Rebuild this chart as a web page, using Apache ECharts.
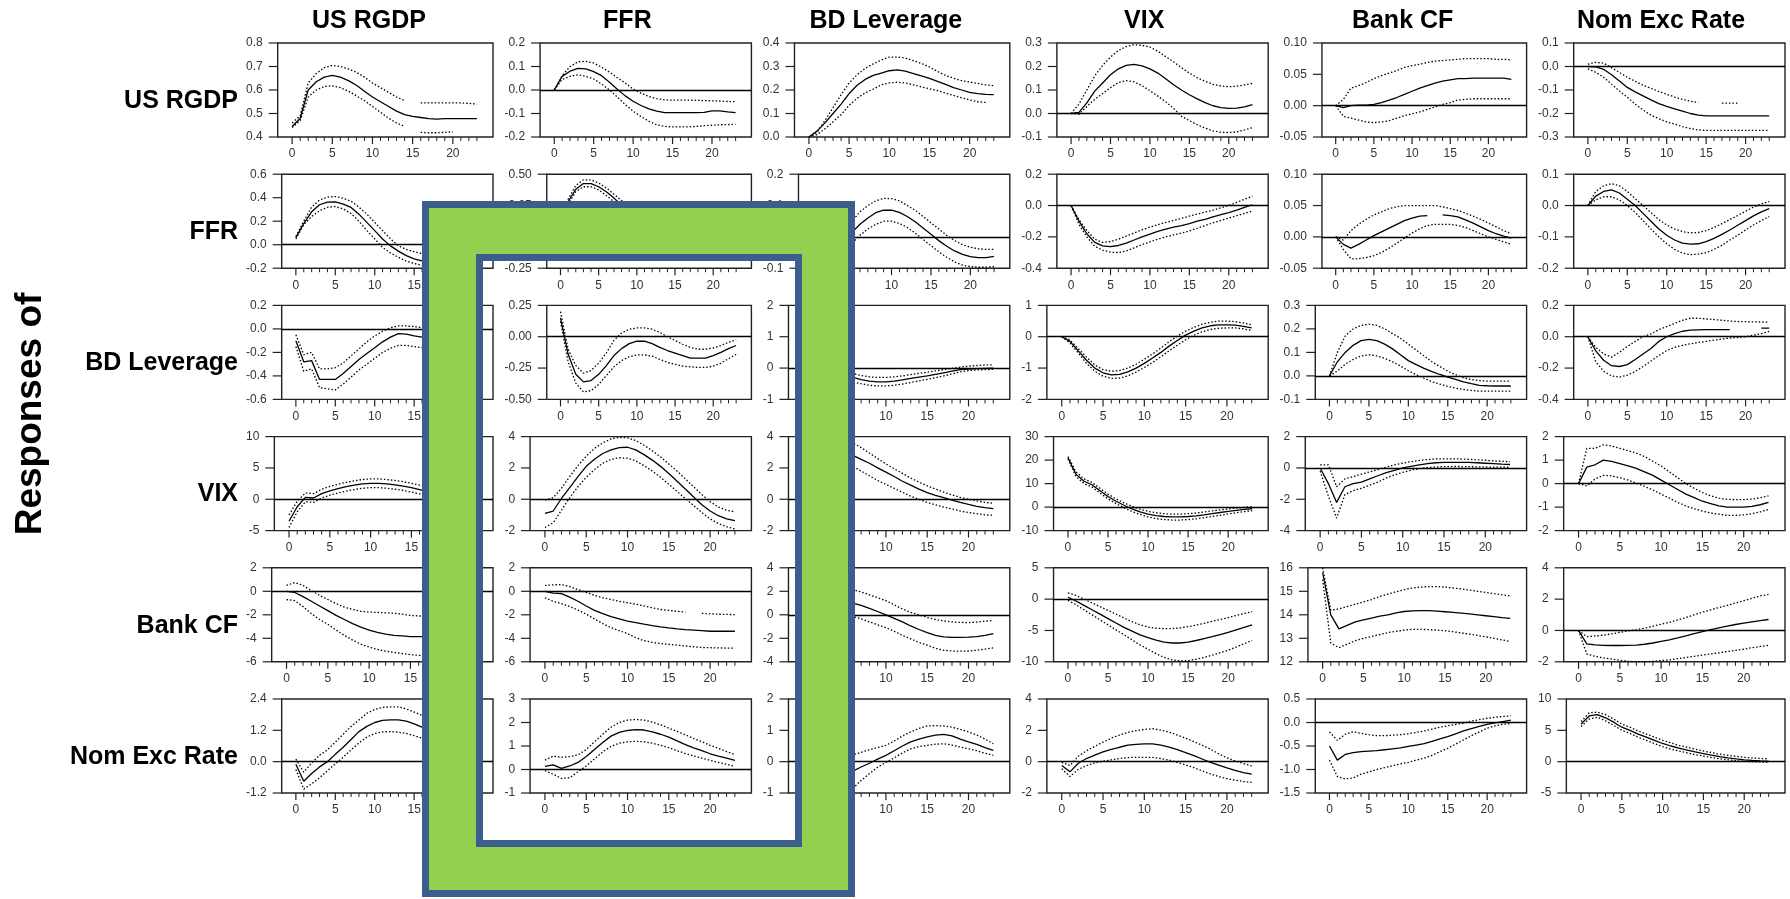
<!DOCTYPE html>
<html>
<head>
<meta charset="utf-8">
<script src="https://cdn.jsdelivr.net/npm/echarts@6/dist/echarts.min.js"></script>
<style>
html, body { margin: 0; padding: 0; background: #fff; }
#chart { width: 1790px; height: 899px; }
</style>
</head>
<body>
<div id="chart"></div>
<script>
// shock / response names (columns = shocks, rows = responses)
var names = ['US RGDP', 'FFR', 'BD Leverage', 'VIX', 'Bank CF', 'Nom Exc Rate'];
var steps = [0, 1, 2, 3, 4, 5, 6, 7, 8, 9, 10, 11, 12, 13, 14, 15, 16, 17, 18, 19, 20, 21, 22, 23];
var xTicks = [0, 5, 10, 15, 20];

// y axis range per panel [row][col]
var yMin = [
    [0.4, -0.2, 0, -0.1, -0.05, -0.3],
    [-0.2, -0.25, -0.1, -0.4, -0.05, -0.2],
    [-0.6, -0.5, -1, -2, -0.1, -0.4],
    [-5, -2, -2, -10, -4, -2],
    [-6, -6, -4, -10, 12, -2],
    [-1.2, -1, -1, -2, -1.5, -5]
];
var yMax = [
    [0.8, 0.2, 0.4, 0.3, 0.10, 0.1],
    [0.6, 0.5, 0.2, 0.2, 0.10, 0.1],
    [0.2, 0.25, 2, 1, 0.3, 0.2],
    [10, 4, 4, 30, 2, 2],
    [2, 2, 4, 5, 16, 4],
    [2.4, 3, 2, 4, 0.5, 10]
];
var yStep = [
    [0.1, 0.1, 0.1, 0.1, 0.05, 0.1],
    [0.2, 0.25, 0.1, 0.2, 0.05, 0.1],
    [0.2, 0.25, 1, 1, 0.1, 0.2],
    [5, 2, 2, 10, 2, 1],
    [2, 2, 2, 5, 1, 2],
    [1.2, 1, 1, 2, 0.5, 5]
];

// responses of US RGDP
var rgdpMid = [
    [0.445, 0.48, 0.60, 0.635, 0.655, 0.662, 0.655, 0.64, 0.62, 0.595, 0.57, 0.55, 0.53, 0.51, 0.495, 0.488, 0.483, 0.478, 0.476, 0.478, 0.478, 0.478, 0.478, 0.478],
    [0, 0.058, 0.08, 0.092, 0.09, 0.078, 0.061, 0.033, 0.003, -0.025, -0.048, -0.066, -0.08, -0.09, -0.096, -0.096, -0.096, -0.096, -0.096, -0.095, -0.089, -0.089, -0.093, -0.096],
    [0, 0.025, 0.06, 0.1, 0.14, 0.185, 0.22, 0.245, 0.262, 0.272, 0.282, 0.286, 0.28, 0.27, 0.26, 0.249, 0.237, 0.224, 0.21, 0.2, 0.19, 0.185, 0.181, 0.18],
    [0, 0.005, 0.045, 0.095, 0.13, 0.165, 0.19, 0.205, 0.209, 0.203, 0.19, 0.172, 0.148, 0.122, 0.1, 0.08, 0.062, 0.046, 0.033, 0.025, 0.022, 0.023, 0.028, 0.038],
    [0, -0.003, 0, 0.001, 0.001, 0.002, 0.005, 0.009, 0.013, 0.018, 0.023, 0.028, 0.032, 0.036, 0.039, 0.041, 0.043, 0.043, 0.044, 0.044, 0.044, 0.044, 0.044, 0.042],
    [0, -0.002, -0.012, -0.035, -0.062, -0.089, -0.108, -0.125, -0.142, -0.158, -0.17, -0.18, -0.19, -0.2, -0.207, -0.21, -0.21, -0.21, -0.21, -0.21, -0.21, -0.21, -0.21, -0.21]
];
var rgdpUp = [
    [0.46, 0.49, 0.63, 0.67, 0.695, 0.705, 0.70, 0.69, 0.675, 0.655, 0.63, 0.61, 0.59, 0.57, 0.555, null, 0.545, 0.545, 0.545, 0.545, 0.545, 0.545, 0.543, 0.54],
    [0, 0.061, 0.1, 0.12, 0.122, 0.115, 0.097, 0.076, 0.052, 0.03, 0.004, -0.013, -0.028, -0.037, -0.042, -0.043, -0.043, -0.043, -0.044, -0.045, -0.046, -0.047, -0.049, -0.05],
    [0, 0.02, 0.07, 0.125, 0.18, 0.23, 0.265, 0.292, 0.311, 0.327, 0.34, 0.34, 0.336, 0.325, 0.313, 0.298, 0.279, 0.262, 0.25, 0.24, 0.234, 0.228, 0.222, 0.218],
    [0, 0.04, 0.1, 0.16, 0.205, 0.24, 0.268, 0.285, 0.293, 0.29, 0.283, 0.265, 0.242, 0.22, 0.195, 0.172, 0.152, 0.137, 0.124, 0.117, 0.114, 0.116, 0.122, 0.128],
    [0, 0.01, 0.028, 0.032, 0.037, 0.043, 0.048, 0.052, 0.056, 0.061, 0.064, 0.066, 0.069, 0.071, 0.072, 0.073, 0.074, 0.075, 0.075, 0.075, 0.075, 0.074, 0.074, 0.073],
    [0.01, 0.018, 0.014, -0.005, -0.025, -0.046, -0.063, -0.08, -0.093, -0.106, -0.118, -0.13, -0.14, -0.148, -0.153, null, null, -0.156, -0.156, -0.156, null, null, null, null]
];
var rgdpLo = [
    [0.44, 0.47, 0.57, 0.60, 0.615, 0.618, 0.61, 0.595, 0.575, 0.555, 0.53, 0.505, 0.48, 0.46, 0.445, null, 0.42, 0.418, 0.418, 0.42, 0.422, null, null, null],
    [0, 0.045, 0.058, 0.065, 0.058, 0.047, 0.025, 0, -0.03, -0.062, -0.09, -0.113, -0.133, -0.148, -0.155, -0.157, -0.157, -0.157, -0.155, -0.152, -0.15, -0.148, -0.147, -0.146],
    [0, 0.01, 0.035, 0.065, 0.095, 0.135, 0.165, 0.188, 0.204, 0.222, 0.23, 0.233, 0.23, 0.222, 0.213, 0.205, 0.197, 0.187, 0.177, 0.167, 0.158, 0.15, 0.147, null],
    [0, -0.003, 0.03, 0.06, 0.085, 0.11, 0.132, 0.14, 0.135, 0.118, 0.097, 0.074, 0.05, 0.022, -0.012, -0.03, -0.048, -0.062, -0.074, -0.08, -0.081, -0.078, -0.07, -0.06],
    [0, -0.017, -0.02, -0.023, -0.026, -0.027, -0.026, -0.024, -0.02, -0.016, -0.013, -0.01, -0.006, -0.002, 0.002, 0.005, 0.009, 0.01, 0.011, 0.011, 0.011, 0.011, 0.011, 0.011],
    [-0.01, -0.025, -0.046, -0.075, -0.104, -0.131, -0.16, -0.185, -0.207, -0.222, -0.236, -0.245, -0.256, -0.264, -0.27, -0.272, -0.272, -0.272, -0.272, -0.272, -0.272, -0.272, -0.272, -0.272]
];

// responses of FFR
var ffrMid = [
    [0.06, 0.18, 0.28, 0.34, 0.362, 0.365, 0.345, 0.317, 0.26, 0.19, 0.12, 0.048, -0.01, -0.055, -0.093, -0.12, -0.138, -0.145, -0.145, -0.14, -0.13, -0.12, -0.11, -0.1],
    [0.12, 0.28, 0.38, 0.425, 0.425, 0.4, 0.36, 0.31, 0.25, 0.19, 0.13, 0.08, 0.04, 0.01, -0.01, -0.03, -0.04, -0.05, -0.055, -0.06, -0.06, -0.06, -0.06, -0.06],
    [0, -0.02, -0.03, -0.025, -0.01, 0.015, 0.04, 0.06, 0.077, 0.085, 0.085, 0.078, 0.065, 0.048, 0.028, 0.008, -0.012, -0.03, -0.045, -0.056, -0.063, -0.066, -0.066, -0.062],
    [0, -0.1, -0.18, -0.235, -0.258, -0.262, -0.255, -0.24, -0.22, -0.2, -0.182, -0.165, -0.15, -0.138, -0.128, -0.115, -0.1, -0.088, -0.072, -0.058, -0.045, -0.03, -0.012, 0.005],
    [0, -0.012, -0.018, -0.012, -0.005, 0.002, 0.008, 0.014, 0.02, 0.026, 0.03, 0.033, 0.034, null, 0.035, 0.034, 0.032, 0.027, 0.022, 0.016, 0.01, 0.005, 0.001, -0.002],
    [0, 0.03, 0.045, 0.05, 0.04, 0.02, 0, -0.025, -0.05, -0.075, -0.095, -0.11, -0.12, -0.123, -0.122, -0.115, -0.105, -0.092, -0.078, -0.063, -0.048, -0.033, -0.02, -0.01]
];
var ffrUp = [
    [0.07, 0.2, 0.32, 0.38, 0.405, 0.41, 0.395, 0.37, 0.32, 0.26, 0.19, 0.12, 0.05, -0.01, -0.04, -0.06, -0.075, -0.08, -0.08, -0.075, -0.07, -0.06, -0.05, -0.04],
    [0.14, 0.3, 0.41, 0.455, 0.455, 0.43, 0.39, 0.34, 0.29, 0.23, 0.17, 0.12, 0.08, 0.05, 0.03, 0.01, 0, -0.01, -0.015, -0.02, -0.02, -0.02, -0.02, -0.02],
    [0, -0.01, -0.01, 0, 0.02, 0.05, 0.08, 0.1, 0.115, 0.123, 0.122, 0.115, 0.1, 0.085, 0.065, 0.045, 0.025, 0.005, -0.012, -0.025, -0.033, -0.038, -0.04, -0.04],
    [0, -0.09, -0.16, -0.215, -0.235, -0.23, -0.215, -0.195, -0.175, -0.155, -0.138, -0.122, -0.108, -0.095, -0.082, -0.068, -0.055, -0.042, -0.03, -0.015, 0, 0.02, 0.04, 0.06],
    [0, -0.005, 0.01, 0.02, 0.028, 0.035, 0.04, 0.045, 0.048, 0.05, 0.05, 0.05, 0.05, 0.05, 0.048, 0.045, 0.042, 0.038, 0.033, 0.028, 0.022, 0.016, 0.01, 0.005],
    [0, 0.045, 0.063, 0.07, 0.063, 0.045, 0.022, 0, -0.022, -0.045, -0.062, -0.075, -0.083, -0.087, -0.086, -0.08, -0.07, -0.058, -0.045, -0.032, -0.018, -0.005, 0.005, 0.013]
];
var ffrLo = [
    [0.05, 0.17, 0.24, 0.29, 0.318, 0.325, 0.305, 0.266, 0.2, 0.12, 0.05, -0.023, -0.07, -0.107, -0.14, -0.16, -0.175, -0.18, -0.18, -0.175, -0.165, -0.155, -0.145, -0.135],
    [0.1, 0.26, 0.36, 0.4, 0.4, 0.375, 0.33, 0.28, 0.22, 0.16, 0.1, 0.05, 0.01, -0.02, -0.04, -0.06, -0.07, -0.08, -0.09, -0.1, -0.1, -0.1, -0.1, -0.1],
    [0, -0.03, -0.05, -0.05, -0.04, -0.02, 0.005, 0.025, 0.04, 0.05, 0.05, 0.043, 0.03, 0.012, -0.008, -0.028, -0.048, -0.065, -0.08, -0.09, -0.095, -0.097, -0.097, -0.095],
    [0, -0.12, -0.2, -0.26, -0.285, -0.298, -0.3, -0.29, -0.27, -0.25, -0.232, -0.215, -0.2, -0.188, -0.176, -0.162, -0.145, -0.128, -0.11, -0.095, -0.08, -0.065, -0.05, -0.035],
    [0, -0.02, -0.035, -0.035, -0.033, -0.03, -0.025, -0.018, -0.01, -0.002, 0.006, 0.013, 0.018, 0.02, 0.02, 0.02, 0.018, 0.015, 0.01, 0.005, 0, -0.004, -0.008, -0.012],
    [0, 0.018, 0.028, 0.028, 0.018, 0, -0.022, -0.048, -0.075, -0.1, -0.122, -0.14, -0.152, -0.157, -0.155, -0.15, -0.14, -0.127, -0.11, -0.095, -0.078, -0.062, -0.048, -0.035]
];

// responses of BD Leverage
var levMid = [
    [-0.1, -0.28, -0.27, -0.43, -0.43, -0.43, -0.38, -0.32, -0.26, -0.21, -0.16, -0.11, -0.07, -0.04, -0.045, -0.06, -0.07, -0.08, -0.09, -0.1, -0.1, -0.1, -0.1, -0.1],
    [0.15, -0.14, -0.3, -0.36, -0.35, -0.3, -0.23, -0.15, -0.095, -0.055, -0.036, -0.036, -0.055, -0.085, -0.11, -0.13, -0.15, -0.17, -0.17, -0.17, -0.15, -0.125, -0.095, -0.07],
    [1.0, 0.7, 0.4, 0.15, -0.05, -0.2, -0.3, -0.37, -0.42, -0.44, -0.44, -0.42, -0.38, -0.33, -0.29, -0.25, -0.2, -0.15, -0.1, -0.05, -0.03, -0.02, -0.01, 0],
    [0, -0.15, -0.45, -0.75, -1.0, -1.15, -1.22, -1.2, -1.12, -1.0, -0.85, -0.68, -0.5, -0.3, -0.12, 0.05, 0.18, 0.28, 0.35, 0.38, 0.38, 0.37, 0.33, 0.28],
    [0, 0.06, 0.1, 0.13, 0.15, 0.155, 0.15, 0.135, 0.115, 0.09, 0.065, 0.048, 0.032, 0.018, 0.006, -0.005, -0.015, -0.025, -0.033, -0.04, -0.042, -0.043, -0.043, -0.043],
    [0, -0.09, -0.15, -0.185, -0.19, -0.178, -0.145, -0.11, -0.075, -0.03, 0, 0.02, 0.035, 0.042, 0.044, 0.045, 0.045, 0.045, 0.045, null, null, null, 0.055, 0.055]
];
var levUp = [
    [-0.05, -0.22, -0.2, -0.34, -0.34, -0.33, -0.29, -0.23, -0.17, -0.11, -0.06, -0.02, 0.01, 0.025, 0.025, 0.02, 0.01, 0, -0.01, -0.02, -0.02, -0.02, -0.02, -0.02],
    [0.2, -0.1, -0.23, -0.29, -0.27, -0.21, -0.13, -0.03, 0.03, 0.06, 0.07, 0.07, 0.06, 0.035, 0, -0.03, -0.06, -0.085, -0.1, -0.1, -0.09, -0.07, -0.045, -0.025],
    [1.1, 0.82, 0.52, 0.27, 0.08, -0.07, -0.17, -0.24, -0.28, -0.3, -0.3, -0.28, -0.25, -0.21, -0.17, -0.13, -0.09, -0.05, -0.01, 0.03, 0.06, 0.08, 0.1, 0.1],
    [0, -0.1, -0.38, -0.65, -0.9, -1.05, -1.1, -1.08, -1.0, -0.88, -0.72, -0.55, -0.36, -0.16, 0.02, 0.18, 0.3, 0.4, 0.46, 0.5, 0.5, 0.48, 0.44, 0.38],
    [0, 0.1, 0.17, 0.2, 0.215, 0.22, 0.215, 0.2, 0.18, 0.16, 0.135, 0.11, 0.085, 0.06, 0.04, 0.02, 0.005, -0.008, -0.016, -0.02, -0.022, -0.022, -0.022, -0.022],
    [0, -0.068, -0.11, -0.13, -0.1, -0.062, -0.03, 0, 0.018, 0.045, 0.065, 0.085, 0.105, 0.118, 0.118, 0.114, 0.11, 0.105, 0.1, 0.097, 0.096, 0.095, 0.094, 0.093]
];
var levLo = [
    [-0.15, -0.36, -0.34, -0.5, -0.51, -0.52, -0.47, -0.41, -0.35, -0.3, -0.25, -0.2, -0.165, -0.14, -0.14, -0.15, -0.16, -0.17, -0.18, -0.18, -0.18, -0.18, -0.18, -0.18],
    [0.12, -0.2, -0.37, -0.44, -0.43, -0.38, -0.31, -0.24, -0.19, -0.16, -0.145, -0.145, -0.155, -0.18, -0.205, -0.22, -0.235, -0.24, -0.245, -0.245, -0.235, -0.21, -0.175, -0.14],
    [0.9, 0.58, 0.28, 0.03, -0.18, -0.33, -0.44, -0.5, -0.55, -0.57, -0.57, -0.55, -0.51, -0.46, -0.41, -0.36, -0.31, -0.25, -0.19, -0.12, -0.08, -0.06, -0.05, -0.04],
    [0, -0.2, -0.52, -0.85, -1.1, -1.26, -1.33, -1.32, -1.25, -1.13, -0.98, -0.82, -0.64, -0.45, -0.27, -0.1, 0.05, 0.16, 0.23, 0.27, 0.28, 0.28, 0.25, 0.2],
    [0, 0.02, 0.05, 0.07, 0.085, 0.09, 0.085, 0.075, 0.06, 0.042, 0.022, 0.005, -0.01, -0.025, -0.035, -0.045, -0.052, -0.058, -0.062, -0.065, -0.065, -0.065, -0.065, -0.065],
    [0, -0.16, -0.22, -0.25, -0.258, -0.245, -0.222, -0.19, -0.155, -0.12, -0.088, -0.068, -0.055, -0.045, -0.037, -0.03, -0.022, -0.015, -0.008, -0.005, 0, 0.01, 0.02, 0.034]
];

// responses of VIX
var vixMid = [
    [-3.5, -1.2, 0.3, 0.2, 0.9, 1.35, 1.7, 2.0, 2.25, 2.45, 2.55, 2.55, 2.45, 2.3, 2.1, 1.85, 1.55, 1.2, 0.85, 0.5, 0.2, -0.05, -0.25, -0.4],
    [-0.9, -0.75, 0.05, 0.75, 1.45, 2.1, 2.55, 2.92, 3.15, 3.3, 3.32, 3.15, 2.85, 2.5, 2.1, 1.65, 1.15, 0.65, 0.15, -0.35, -0.75, -1.05, -1.25, -1.37],
    [3.5, 3.6, 3.5, 3.3, 3.1, 2.95, 2.8, 2.55, 2.3, 2.0, 1.73, 1.45, 1.15, 0.9, 0.65, 0.43, 0.25, 0.1, -0.05, -0.2, -0.33, -0.45, -0.53, -0.6],
    [21, 14, 11, 9.5, 7, 4.5, 2.5, 0.8, -0.8, -2.0, -3.0, -3.6, -4.0, -4.2, -4.2, -4.0, -3.7, -3.3, -2.8, -2.3, -1.8, -1.4, -1.0, -0.7],
    [0, -1.0, -2.2, -1.2, -1.0, -0.9, -0.7, -0.5, -0.3, -0.15, 0, 0.1, 0.2, 0.28, 0.33, 0.35, 0.36, 0.36, 0.35, 0.33, 0.3, 0.27, 0.24, 0.22],
    [0, 0.7, 0.8, 1.0, 0.95, 0.85, 0.75, 0.65, 0.5, 0.35, 0.15, -0.05, -0.25, -0.45, -0.6, -0.75, -0.85, -0.95, -1.0, -1.0, -1.0, -0.97, -0.9, -0.8]
];
var vixUp = [
    [-2.5, -0.3, 1.0, 0.9, 1.6, 2.05, 2.4, 2.7, 2.95, 3.15, 3.25, 3.25, 3.15, 3.0, 2.8, 2.55, 2.25, 1.9, 1.55, 1.2, 0.9, 0.65, 0.45, 0.3],
    [-0.05, 0.1, 0.7, 1.45, 2.15, 2.75, 3.25, 3.6, 3.85, 3.95, 3.92, 3.75, 3.45, 3.1, 2.7, 2.25, 1.8, 1.3, 0.8, 0.3, -0.15, -0.5, -0.7, -0.8],
    [4.0, 4.2, 4.1, 3.95, 3.8, 3.7, 3.6, 3.3, 2.95, 2.6, 2.25, 1.95, 1.65, 1.35, 1.1, 0.86, 0.65, 0.45, 0.28, 0.12, 0, -0.1, -0.2, -0.25],
    [21.5, 15, 12, 10.5, 8, 5.5, 3.5, 1.8, 0.3, -0.9, -1.8, -2.4, -2.8, -3.0, -3.0, -2.8, -2.5, -2.1, -1.6, -1.2, -0.8, -0.4, -0.1, 0.2],
    [0.2, 0.2, -1.2, -0.7, -0.55, -0.4, -0.25, -0.1, 0.05, 0.2, 0.3, 0.4, 0.48, 0.54, 0.57, 0.58, 0.58, 0.57, 0.55, 0.52, 0.49, 0.45, 0.42, 0.4],
    [0, 1.5, 1.5, 1.65, 1.6, 1.5, 1.4, 1.3, 1.15, 0.95, 0.75, 0.5, 0.25, 0, -0.2, -0.38, -0.52, -0.62, -0.67, -0.68, -0.68, -0.66, -0.6, -0.52]
];
var vixLo = [
    [-4.5, -2.0, -0.4, -0.5, 0.2, 0.65, 1.0, 1.3, 1.55, 1.75, 1.85, 1.85, 1.75, 1.6, 1.4, 1.15, 0.85, 0.5, 0.15, -0.2, -0.5, -0.75, -0.95, -1.1],
    [-1.8, -1.5, -0.7, 0.1, 0.8, 1.4, 1.9, 2.3, 2.55, 2.65, 2.62, 2.45, 2.15, 1.8, 1.4, 0.95, 0.5, 0.05, -0.4, -0.85, -1.25, -1.55, -1.75, -1.9],
    [3.0, 3.0, 2.9, 2.7, 2.5, 2.3, 2.1, 1.8, 1.5, 1.2, 0.95, 0.7, 0.45, 0.2, 0, -0.2, -0.35, -0.5, -0.62, -0.75, -0.85, -0.92, -1.0, -1.02],
    [20.5, 13, 10, 8.5, 6, 3.5, 1.5, -0.3, -1.9, -3.1, -4.2, -4.9, -5.3, -5.5, -5.5, -5.3, -5.0, -4.5, -4.0, -3.5, -2.9, -2.4, -1.9, -1.5],
    [-0.2, -1.8, -3.2, -1.7, -1.45, -1.3, -1.1, -0.9, -0.65, -0.45, -0.28, -0.15, -0.05, 0.02, 0.06, 0.08, 0.09, 0.09, 0.08, 0.07, 0.06, 0.05, 0.05, 0.04],
    [0, -0.1, 0.2, 0.35, 0.33, 0.25, 0.15, 0.02, -0.12, -0.27, -0.45, -0.62, -0.8, -0.95, -1.07, -1.17, -1.25, -1.3, -1.35, -1.35, -1.33, -1.28, -1.2, -1.1]
];

// responses of Bank CF
var bankMid = [
    [0, -0.1, -0.45, -0.85, -1.25, -1.65, -2.05, -2.4, -2.75, -3.05, -3.3, -3.5, -3.65, -3.75, -3.8, -3.85, -3.85, -3.85, -3.85, -3.85, -3.85, -3.85, -3.85, -3.85],
    [0, -0.15, -0.2, -0.5, -0.85, -1.25, -1.62, -1.9, -2.15, -2.35, -2.53, -2.67, -2.8, -2.92, -3.03, -3.12, -3.2, -3.26, -3.3, -3.35, -3.4, -3.4, -3.4, -3.4],
    [1.5, 1.4, 1.3, 1.2, 1.1, 1.05, 1.0, 0.8, 0.55, 0.28, 0, -0.3, -0.6, -0.95, -1.25, -1.52, -1.75, -1.88, -1.92, -1.92, -1.9, -1.85, -1.75, -1.6],
    [0.3, -0.3, -1.0, -1.7, -2.4, -3.1, -3.8, -4.5, -5.1, -5.7, -6.15, -6.55, -6.85, -7.0, -7.0, -6.85, -6.6, -6.3, -6.0, -5.65, -5.3, -4.9, -4.5, -4.1],
    [15.8, 14.0, 13.4, 13.55, 13.7, 13.78, 13.86, 13.94, 14.0, 14.08, 14.14, 14.17, 14.18, 14.18, 14.16, 14.13, 14.1, 14.07, 14.04, 14.0, 13.96, 13.92, 13.88, 13.85],
    [0, -0.85, -0.92, -0.95, -0.96, -0.96, -0.95, -0.93, -0.88, -0.8, -0.7, -0.6, -0.48, -0.35, -0.2, -0.08, 0.05, 0.17, 0.28, 0.38, 0.47, 0.55, 0.63, 0.7]
];
var bankUp = [
    [0.5, 0.75, 0.5, 0.05, -0.35, -0.7, -1.05, -1.35, -1.55, -1.7, -1.77, -1.8, -1.83, -1.86, -1.95, -2.05, -2.1, -2.1, -2.1, -2.1, -2.1, -2.1, -2.1, -2.1],
    [0.5, 0.55, 0.57, 0.4, 0.15, -0.1, -0.35, -0.55, -0.7, -0.85, -0.97, -1.1, -1.25, -1.4, -1.55, -1.62, -1.7, -1.76, null, -1.88, -1.92, -1.95, -1.97, -1.98],
    [2.5, 2.5, 2.4, 2.35, 2.3, 2.2, 2.14, 1.95, 1.7, 1.45, 1.2, 0.85, 0.5, 0.2, 0, -0.23, -0.4, -0.52, -0.6, -0.65, -0.66, -0.62, -0.55, -0.48],
    [1.0, 0.6, 0, -0.6, -1.2, -1.8, -2.4, -3.0, -3.6, -4.1, -4.45, -4.65, -4.7, -4.7, -4.6, -4.4, -4.15, -3.85, -3.55, -3.25, -2.95, -2.6, -2.3, -2.0],
    [16.0, 14.2, 14.25, 14.35, 14.45, 14.55, 14.65, 14.78, 14.88, 14.98, 15.07, 15.14, 15.18, 15.2, 15.2, 15.18, 15.14, 15.1, 15.05, 15.0, 14.95, 14.9, 14.85, 14.8],
    [0, -0.4, -0.35, -0.3, -0.22, -0.12, -0.03, 0.05, 0.15, 0.27, 0.4, 0.52, 0.67, 0.82, 1.0, 1.17, 1.32, 1.46, 1.6, 1.75, 1.9, 2.05, 2.2, 2.3]
];
var bankLo = [
    [-0.7, -0.8, -1.3, -1.9, -2.4, -2.8, -3.3, -3.75, -4.15, -4.5, -4.75, -4.95, -5.1, -5.2, -5.3, -5.4, -5.45, -5.5, -5.5, -5.5, -5.5, -5.5, -5.5, -5.5],
    [-0.55, -0.85, -1.05, -1.3, -1.6, -1.95, -2.35, -2.75, -3.1, -3.35, -3.6, -3.95, -4.2, -4.35, -4.45, -4.52, -4.58, -4.65, -4.72, -4.78, -4.8, -4.82, -4.83, -4.83],
    [0.8, 0.6, 0.45, 0.3, 0.15, 0, -0.15, -0.35, -0.6, -0.85, -1.1, -1.4, -1.75, -2.05, -2.35, -2.58, -2.85, -3.02, -3.08, -3.1, -3.08, -3.02, -2.92, -2.82],
    [-0.2, -0.9, -1.7, -2.5, -3.3, -4.1, -4.9, -5.7, -6.5, -7.3, -8.0, -8.7, -9.3, -9.7, -9.85, -9.8, -9.6, -9.3, -8.95, -8.55, -8.15, -7.65, -7.1, -6.6],
    [15.5, 12.8, 12.6, 12.75, 12.9, 13.0, 13.08, 13.16, 13.24, 13.3, 13.35, 13.38, 13.38, 13.37, 13.35, 13.32, 13.28, 13.23, 13.18, 13.12, 13.06, 13.0, 12.93, 12.87],
    [0, -1.5, -1.65, -1.75, -1.82, -1.9, -1.97, -2.0, -2.0, -1.97, -1.92, -1.88, -1.8, -1.72, -1.65, -1.57, -1.5, -1.43, -1.35, -1.27, -1.2, -1.1, -1.02, -0.95]
];

// responses of Nom Exc Rate
var nerMid = [
    [-0.1, -0.75, -0.45, -0.2, 0, 0.28, 0.55, 0.85, 1.15, 1.35, 1.5, 1.58, 1.6, 1.6, 1.55, 1.45, 1.32, 1.18, 1.02, 0.88, 0.75, 0.62, 0.5, 0.4],
    [0.13, 0.2, 0.05, 0.15, 0.3, 0.55, 0.85, 1.15, 1.42, 1.58, 1.66, 1.7, 1.68, 1.6, 1.5, 1.38, 1.22, 1.06, 0.92, 0.8, 0.67, 0.57, 0.48, 0.39],
    [-0.6, -0.7, -0.7, -0.6, -0.5, -0.4, -0.3, -0.17, -0.05, 0.08, 0.2, 0.35, 0.5, 0.63, 0.72, 0.79, 0.85, 0.87, 0.82, 0.72, 0.63, 0.55, 0.45, 0.36],
    [-0.25, -0.65, -0.1, 0.2, 0.42, 0.62, 0.78, 0.92, 1.05, 1.1, 1.13, 1.13, 1.05, 0.93, 0.77, 0.58, 0.38, 0.17, -0.04, -0.22, -0.4, -0.56, -0.7, -0.8],
    [-0.5, -0.8, -0.68, -0.64, -0.62, -0.61, -0.6, -0.58, -0.56, -0.54, -0.51, -0.48, -0.45, -0.4, -0.35, -0.3, -0.24, -0.18, -0.13, -0.08, -0.04, -0.01, 0.02, 0.05],
    [6.0, 7.3, 7.5, 7.0, 6.3, 5.5, 5.0, 4.4, 3.9, 3.4, 2.9, 2.5, 2.15, 1.85, 1.55, 1.3, 1.05, 0.82, 0.62, 0.45, 0.3, 0.2, 0.12, 0.08]
];
var nerUp = [
    [0.1, -0.4, -0.05, 0.25, 0.45, 0.75, 1.05, 1.35, 1.6, 1.85, 2.0, 2.08, 2.1, 2.1, 2.02, 1.9, 1.77, 1.62, 1.46, 1.3, 1.15, 1.02, 0.9, 0.8],
    [0.4, 0.57, 0.52, 0.55, 0.62, 0.85, 1.18, 1.5, 1.8, 2.0, 2.1, 2.13, 2.1, 2.02, 1.9, 1.76, 1.62, 1.48, 1.32, 1.18, 1.03, 0.9, 0.76, 0.64],
    [0.2, 0.1, 0.05, 0.05, 0.1, 0.15, 0.22, 0.3, 0.38, 0.45, 0.52, 0.66, 0.82, 0.95, 1.06, 1.14, 1.15, 1.14, 1.1, 1.03, 0.95, 0.85, 0.72, 0.57],
    [-0.05, -0.25, 0.35, 0.7, 0.98, 1.25, 1.5, 1.7, 1.87, 1.98, 2.06, 2.1, 2.02, 1.88, 1.7, 1.5, 1.28, 1.05, 0.8, 0.5, 0.25, 0.05, -0.12, -0.27],
    [-0.2, -0.38, -0.25, -0.2, -0.23, -0.26, -0.28, -0.28, -0.27, -0.26, -0.24, -0.21, -0.18, -0.14, -0.1, -0.07, -0.04, -0.01, 0.03, 0.06, 0.09, 0.11, 0.13, 0.14],
    [6.4, 7.8, 7.9, 7.5, 6.8, 6.0, 5.5, 4.9, 4.4, 3.9, 3.4, 3.0, 2.6, 2.3, 2.0, 1.7, 1.45, 1.2, 1.0, 0.85, 0.7, 0.6, 0.5, 0.45]
];
var nerLo = [
    [-0.3, -1.05, -0.85, -0.62, -0.35, -0.08, 0.17, 0.45, 0.72, 0.94, 1.08, 1.14, 1.15, 1.13, 1.08, 1.0, 0.9, 0.78, 0.65, 0.52, 0.4, 0.3, 0.2, 0.1],
    [-0.05, -0.2, -0.38, -0.35, -0.1, 0.15, 0.45, 0.75, 0.98, 1.12, 1.18, 1.2, 1.18, 1.12, 1.03, 0.93, 0.8, 0.68, 0.58, 0.48, 0.39, 0.3, 0.22, 0.13],
    [-1.4, -1.5, -1.5, -1.4, -1.2, -1.0, -0.85, -0.6, -0.38, -0.18, -0.02, 0.12, 0.28, 0.41, 0.48, 0.52, 0.56, 0.57, 0.53, 0.47, 0.41, 0.35, 0.27, 0.2],
    [-0.45, -0.95, -0.5, -0.25, -0.08, 0.03, 0.12, 0.2, 0.26, 0.28, 0.28, 0.27, 0.2, 0.1, -0.05, -0.2, -0.38, -0.58, -0.78, -0.95, -1.08, -1.18, -1.27, -1.32],
    [-0.8, -1.15, -1.2, -1.18, -1.1, -1.05, -1.0, -0.96, -0.92, -0.88, -0.85, -0.8, -0.76, -0.7, -0.62, -0.55, -0.46, -0.37, -0.28, -0.2, -0.12, -0.07, -0.04, -0.02],
    [5.6, 6.8, 7.1, 6.5, 5.8, 5.0, 4.5, 3.9, 3.4, 2.9, 2.4, 2.0, 1.7, 1.4, 1.1, 0.9, 0.65, 0.45, 0.3, 0.15, 0.05, 0, -0.05, -0.1]
];

var midRows = [rgdpMid, ffrMid, levMid, vixMid, bankMid, nerMid];
var upRows = [rgdpUp, ffrUp, levUp, vixUp, bankUp, nerUp];
var loRows = [rgdpLo, ffrLo, levLo, vixLo, bankLo, nerLo];

(function() {
    var fontFamily = 'Arial, "Liberation Sans", sans-serif';
    var tickFont = 12;
    var ink = '#222';
    var xLo = -1.8, xHi = 25;

    // layout of the panel boxes
    var colRight0 = 493, colGap = 258.4;
    var rowTop0 = 43, rowGap = 131.2, boxH = 94;

    var measure = document.createElement('canvas').getContext('2d');
    measure.font = tickFont + 'px ' + fontFamily;

    function decimals(step) {
        var s = String(step);
        return s.indexOf('.') < 0 ? 0 : s.length - s.indexOf('.') - 1;
    }
    function fmt(v, d) {
        if (Math.abs(v) < 1e-9) v = 0;
        return v.toFixed(d);
    }
    function makeFormatter(d) {
        return function(v) { return fmt(v, d); };
    }
    function pairs(arr) {
        return steps.map(function(x, i) { return [x, arr[i]]; });
    }
    // x tick marks hanging below the box, placed through the axes' own scales
    // kind 0 = major tick, 1 = minor tick
    function makeXTickRenderer(yLo) {
        return function(params, api) {
            var kind = api.value(0), v = api.value(1);
            var p = api.coord([v, yLo]);
            return { type: 'line', shape: { x1: p[0], y1: p[1], x2: p[0], y2: p[1] + (kind === 0 ? 7 : 4) }, style: { stroke: ink, lineWidth: kind === 0 ? 1.2 : 1 } };
        };
    }
    // y tick marks sticking out to the left of the box (thin rects, flat lines get dropped)
    function makeYTickRenderer() {
        return function(params, api) {
            var p = api.coord([xLo, api.value(1)]);
            return { type: 'rect', shape: { x: p[0] - 9, y: p[1] - 0.6, width: 9, height: 1.2 }, style: { fill: ink } };
        };
    }

    var grids = [], xAxes = [], yAxes = [], series = [], graphics = [];

    for (var r = 0; r < 6; r++) {
        for (var c = 0; c < 6; c++) {
            var k = r * 6 + c;
            var lo = yMin[r][c], hi = yMax[r][c], st = yStep[r][c];
            var dec = decimals(st);
            var n = Math.round((hi - lo) / st);
            var labelW = 0;
            var yTickData = [];
            for (var i = 0; i <= n; i++) {
                yTickData.push([0, lo + i * st]);
                labelW = Math.max(labelW, measure.measureText(fmt(lo + i * st, dec)).width);
            }
            var boxRight = colRight0 + c * colGap;
            var boxTop = rowTop0 + r * rowGap;
            var boxLeft = boxRight - 247 + labelW + 15;

            grids.push({
                left: boxLeft, top: boxTop, width: boxRight - boxLeft, height: boxH,
                show: true, borderColor: ink, borderWidth: 1.4,
                backgroundColor: 'rgba(0,0,0,0)'
            });

            xAxes.push({
                gridIndex: k, type: 'value', min: xLo, max: xHi, position: 'bottom',
                axisLine: { show: false, onZero: false },
                splitLine: { show: false },
                axisTick: { show: false },
                axisLabel: { show: true, customValues: xTicks, margin: 11, fontSize: tickFont, color: '#333', fontFamily: fontFamily }
            });
            yAxes.push({
                gridIndex: k, type: 'value', min: lo, max: hi, interval: st, position: 'left',
                axisLine: { show: false, onZero: false },
                splitLine: { show: false },
                axisTick: { show: false },
                axisLabel: { show: true, margin: 15, fontSize: tickFont, color: '#333', fontFamily: fontFamily, formatter: makeFormatter(dec) }
            });

            var xTickData = [];
            xTicks.forEach(function(v) { xTickData.push([0, v]); });
            steps.forEach(function(v) { if (v % 5 !== 0) xTickData.push([1, v]); });
            series.push({
                type: 'custom', xAxisIndex: k, yAxisIndex: k, clip: false, silent: true, z: 4,
                renderItem: makeXTickRenderer(lo),
                data: xTickData
            });
            series.push({
                type: 'custom', xAxisIndex: k, yAxisIndex: k, clip: false, silent: true, z: 4,
                renderItem: makeYTickRenderer(),
                data: yTickData
            });

            var midSeries = {
                type: 'line', xAxisIndex: k, yAxisIndex: k,
                data: pairs(midRows[r][c]), showSymbol: false, connectNulls: false,
                lineStyle: { color: '#000', width: 1.3 }, silent: true, z: 3
            };
            if (lo < 0 && hi > 0) {
                midSeries.markLine = {
                    silent: true, symbol: ['none', 'none'], label: { show: false },
                    lineStyle: { color: '#000', width: 1.3, type: 'solid' },
                    data: [{ yAxis: 0 }]
                };
            }
            series.push(midSeries);
            series.push({
                type: 'line', xAxisIndex: k, yAxisIndex: k,
                data: pairs(upRows[r][c]), showSymbol: false, connectNulls: false,
                lineStyle: { color: '#000', width: 1.3, type: [1.5, 2] }, silent: true
            });
            series.push({
                type: 'line', xAxisIndex: k, yAxisIndex: k,
                data: pairs(loRows[r][c]), showSymbol: false, connectNulls: false,
                lineStyle: { color: '#000', width: 1.3, type: [1.5, 2] }, silent: true
            });
        }
    }

    // column titles and row labels
    var bigFont = 'bold 25px ' + fontFamily;
    names.forEach(function(name, j) {
        graphics.push({
            type: 'text', x: colRight0 + j * colGap - 124, y: 21, z: 50,
            style: { text: name, font: bigFont, fill: '#000', align: 'center', verticalAlign: 'middle' }
        });
        graphics.push({
            type: 'text', x: 238, y: rowTop0 + j * rowGap + boxH / 2 + 11, z: 50,
            style: { text: name, font: bigFont, fill: '#000', align: 'right', verticalAlign: 'middle' }
        });
    });
    graphics.push({
        type: 'text', x: 31, y: 414, rotation: Math.PI / 2, z: 50,
        style: { text: 'Responses of', font: 'bold 37px ' + fontFamily, fill: '#000', align: 'center', verticalAlign: 'middle' }
    });

    // green highlight frame around the FFR column
    var green = '#92d050', blue = '#3b5e8c';
    var frameOut = { x0: 422, y0: 201, x1: 855, y1: 897 };
    var frameIn = { x0: 476, y0: 254, x1: 802, y1: 847 };
    var bw = 7;
    [
        { x: frameOut.x0, y: frameOut.y0, width: frameOut.x1 - frameOut.x0, height: frameIn.y0 - frameOut.y0 },
        { x: frameOut.x0, y: frameIn.y1, width: frameOut.x1 - frameOut.x0, height: frameOut.y1 - frameIn.y1 },
        { x: frameOut.x0, y: frameIn.y0, width: frameIn.x0 - frameOut.x0, height: frameIn.y1 - frameIn.y0 },
        { x: frameIn.x1, y: frameIn.y0, width: frameOut.x1 - frameIn.x1, height: frameIn.y1 - frameIn.y0 }
    ].forEach(function(s) {
        graphics.push({ type: 'rect', z: 100, shape: s, style: { fill: green } });
    });
    graphics.push({
        type: 'rect', z: 101,
        shape: { x: frameOut.x0 + bw / 2, y: frameOut.y0 + bw / 2, width: frameOut.x1 - frameOut.x0 - bw, height: frameOut.y1 - frameOut.y0 - bw },
        style: { fill: 'none', stroke: blue, lineWidth: bw }
    });
    graphics.push({
        type: 'rect', z: 101,
        shape: { x: frameIn.x0 + bw / 2, y: frameIn.y0 + bw / 2, width: frameIn.x1 - frameIn.x0 - bw, height: frameIn.y1 - frameIn.y0 - bw },
        style: { fill: 'none', stroke: blue, lineWidth: bw }
    });

    var chart = echarts.init(document.getElementById('chart'));
    chart.setOption({
        animation: false,
        backgroundColor: '#fff',
        grid: grids,
        xAxis: xAxes,
        yAxis: yAxes,
        series: series,
        graphic: { elements: graphics }
    });
})();
</script>
</body>
</html>
